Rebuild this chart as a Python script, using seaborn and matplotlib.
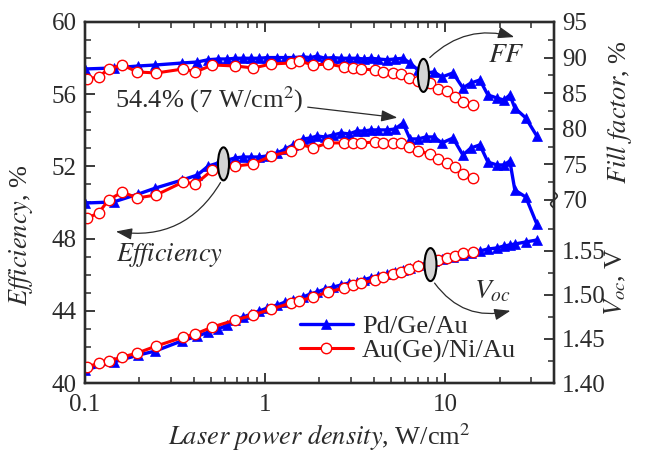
import numpy as np
import pandas as pd
import matplotlib
matplotlib.use("Agg")
import matplotlib.pyplot as plt
import seaborn as sns
from matplotlib.patches import Ellipse
from matplotlib.lines import Line2D
from matplotlib.ticker import FixedLocator, NullFormatter, LogLocator

# ---- data ----
# Pd/Ge/Au contacts (blue triangles)
pd_power = [0.1, 0.144, 0.198, 0.246, 0.347, 0.42, 0.483, 0.549, 0.616, 0.682,
            0.755, 0.836, 0.926, 1.026, 1.166, 1.291, 1.429, 1.624, 1.776, 1.942,
            2.15, 2.381, 2.637, 2.92, 3.233, 3.536, 3.867, 4.227, 4.742, 5.251,
            5.815, 6.358, 7.041, 7.798, 8.636, 9.563, 11.01, 12.5, 13.84, 15.53,
            17.2, 19.29, 21.09, 22.77, 24.27, 27.92, 32.13]
pd_eff = [49.97, 50.03, 50.47, 50.80, 51.25, 51.52, 52.02, 52.19, 52.35, 52.47,
          52.52, 52.52, 52.52, 52.58, 52.74, 52.96, 53.19, 53.52, 53.57, 53.68,
          53.63, 53.74, 53.85, 53.80, 53.96, 53.96, 54.02, 54.02, 54.02, 54.07,
          54.40, 53.52, 53.52, 53.63, 53.63, 53.30, 53.57, 52.63, 53.02, 53.19,
          52.24, 52.08, 52.08, 52.30, 50.69, 50.30, 48.81]
pd_ff = [88.40, 88.54, 88.82, 88.96, 89.24, 89.38, 89.70, 89.80, 89.80, 89.90,
         89.90, 89.90, 89.90, 90.00, 90.00, 90.00, 90.00, 90.10, 90.00, 90.20,
         89.90, 90.00, 89.90, 89.90, 89.90, 89.80, 89.90, 89.80, 89.70, 89.80,
         89.90, 89.24, 88.26, 87.84, 87.98, 87.28, 87.84, 85.73, 86.43, 86.85,
         84.75, 84.33, 84.04, 84.75, 82.92, 81.52, 78.99]
pd_voc = [1.4147, 1.4238, 1.4317, 1.4363, 1.4480, 1.4530, 1.4578, 1.4612, 1.4658, 1.4714,
          1.4748, 1.4782, 1.4816, 1.4850, 1.4884, 1.4918, 1.4941, 1.4975, 1.5009, 1.5032,
          1.5066, 1.5088, 1.5111, 1.5134, 1.5150, 1.5172, 1.5195, 1.5215, 1.5240, 1.5262,
          1.5285, 1.5308, 1.5333, 1.5358, 1.5380, 1.5403, 1.5429, 1.5451, 1.5474, 1.5497,
          1.5519, 1.5531, 1.5553, 1.5565, 1.5576, 1.5599, 1.5621]

# Au(Ge)/Ni/Au contacts (red open circles)
au_power = [0.103, 0.119, 0.135, 0.161, 0.195, 0.249, 0.351, 0.41, 0.509, 0.682,
            0.858, 1.08, 1.393, 1.543, 1.845, 2.234, 2.741, 3.073, 3.403, 4.069,
            4.506, 5.119, 5.669, 6.278, 7.041, 8.207, 9.088, 10.19, 11.29, 12.5, 14.2]
au_eff = [49.14, 49.42, 50.14, 50.58, 50.25, 50.42, 51.14, 51.02, 51.80, 52.02,
          52.13, 52.58, 52.85, 53.24, 53.02, 53.30, 53.30, 53.30, 53.30, 53.35,
          53.30, 53.30, 53.30, 53.07, 52.85, 52.69, 52.41, 52.19, 51.97, 51.58, 51.36]
au_ff = [86.99, 87.28, 88.40, 88.96, 87.98, 87.84, 88.40, 87.98, 88.96, 88.82,
         88.54, 89.10, 89.24, 89.52, 88.96, 89.10, 88.68, 88.54, 88.40, 88.26,
         87.98, 87.84, 87.70, 87.13, 86.71, 86.43, 85.59, 85.31, 84.47, 83.76, 83.34]
au_voc = [1.4180, 1.4227, 1.4250, 1.4295, 1.4340, 1.4420, 1.4520, 1.4556, 1.4635, 1.4714,
          1.4771, 1.4839, 1.4907, 1.4930, 1.4975, 1.5032, 1.5077, 1.5111, 1.5134, 1.5168,
          1.5202, 1.5236, 1.5259, 1.5293, 1.5327, 1.5360, 1.5395, 1.5417, 1.5440, 1.5474, 1.5485]

eff_ticks = [40, 44, 48, 52, 56, 60]
ff_ticks = [70, 75, 80, 85, 90, 95]
voc_ticks = [1.40, 1.45, 1.50, 1.55]

BLUE = "#0000ff"
RED = "#ff0000"
INK = "#2b2b2b"

pd_df = pd.DataFrame({"power": pd_power, "eff": pd_eff, "ff": pd_ff, "voc": pd_voc})
au_df = pd.DataFrame({"power": au_power, "eff": au_eff, "ff": au_ff, "voc": au_voc})

sns.set_theme(style="ticks")
plt.rcParams["font.family"] = ["Liberation Serif", "DejaVu Serif"]
plt.rcParams["mathtext.fontset"] = "stix"
plt.rcParams["text.color"] = INK
plt.rcParams["axes.labelcolor"] = INK
plt.rcParams["xtick.color"] = INK
plt.rcParams["ytick.color"] = INK
plt.rcParams["axes.edgecolor"] = INK

fig = plt.figure(figsize=(6.54, 4.53), dpi=100)
ax = fig.add_axes([0.130, 0.1545, 0.717, 0.797])
ax_ff = ax.twinx()
ax_voc = ax.twinx()

blue_kw = dict(color=BLUE, linewidth=2.4, marker="^", markersize=7,
               markerfacecolor=BLUE, markeredgecolor=BLUE, markeredgewidth=0.5)
red_kw = dict(color=RED, linewidth=2.2, marker="o", markersize=7.5,
              markerfacecolor="white", markeredgecolor=RED, markeredgewidth=1.0)

for target, col in [(ax, "eff"), (ax_ff, "ff"), (ax_voc, "voc")]:
    sns.lineplot(data=pd_df, x="power", y=col, ax=target, estimator=None,
                 sort=False, legend=False, **blue_kw)
    sns.lineplot(data=au_df, x="power", y=col, ax=target, estimator=None,
                 sort=False, legend=False, **red_kw)

# scales: all three share the same pixel frame
ax.set_xscale("log")
ax.set_xlim(0.1, 40)
ax.set_ylim(40, 60)
ax_ff.set_ylim(44.30, 95)
ax_voc.set_ylim(1.40, 1.8093)

ax.xaxis.set_major_locator(FixedLocator([0.1, 1, 10]))
ax.set_xticklabels(["0.1", "1", "10"])
ax.xaxis.set_minor_locator(LogLocator(base=10, subs=np.arange(2, 10)))
ax.xaxis.set_minor_formatter(NullFormatter())

ax.set_yticks(eff_ticks)
ax.set_yticks(np.arange(40, 61, 1), minor=True)

ax_ff.set_yticks(ff_ticks)
ax_ff.set_yticks(np.arange(72.5, 95, 5), minor=True)
ax_voc.set_yticks(voc_ticks)
ax_voc.set_yticklabels([f"{v:.2f}" for v in voc_ticks])
ax_voc.set_yticks([1.425, 1.475, 1.525, 1.575], minor=True)

for a in (ax, ax_ff, ax_voc):
    for s in a.spines.values():
        s.set_linewidth(1.6)
        s.set_color(INK)

ax.tick_params(axis="x", which="both", direction="in", top=True, bottom=True,
               labelsize=18, pad=8)
ax.tick_params(axis="y", which="both", direction="in", left=True, right=False,
               labelsize=18, pad=6)
for a in (ax_ff, ax_voc):
    a.tick_params(axis="y", which="both", direction="in", right=True, left=False,
                  labelsize=18, pad=6)
for a in (ax, ax_ff, ax_voc):
    a.tick_params(which="major", length=7, width=1.3)
    a.tick_params(which="minor", length=4.5, width=1.1)

# axis labels
ax.set_xlabel(r"$\mathit{Laser\ power\ density}$, W/cm$^2$", fontsize=19)
ax.xaxis.set_label_coords(0.5, -0.105)
ax.set_ylabel(r"$\mathit{Efficiency}$, %", fontsize=19)
ax.yaxis.set_label_coords(-0.107, 0.41)
ax_ff.set_ylabel(r"$\mathit{Fill\ factor}$, %", fontsize=19)
ax_ff.yaxis.set_label_coords(1.108, 0.75)
ax_voc.set_ylabel(r"$V_{oc}$, V", fontsize=19)
ax_voc.yaxis.set_label_coords(1.104, 0.28)

# axis break on the right spine
t = np.linspace(-1, 1, 30)
ax_voc.add_line(Line2D(1 + 0.007 * np.sin(np.pi * t), 0.507 + 0.022 * t,
                       transform=ax.transAxes, color=INK, lw=1.2, clip_on=False, zorder=10))

# group markers and call-outs
ell_kw = dict(facecolor="#d4d4d4", edgecolor="black", lw=1.5,
              transform=ax.transAxes, zorder=20)
ax_voc.add_patch(Ellipse((0.7217, 0.852), 0.0235, 0.0914, **ell_kw))
ax_voc.add_patch(Ellipse((0.2953, 0.607), 0.0235, 0.0914, **ell_kw))
ax_voc.add_patch(Ellipse((0.7367, 0.328), 0.0256, 0.0914, **ell_kw))

arrow_kw = dict(arrowstyle="-|>,head_length=0.7,head_width=0.25",
                color=INK, lw=0.9, mutation_scale=14)
ax_voc.annotate("", xy=(0.921, 0.956), xytext=(0.731, 0.896), xycoords=ax.transAxes,
                arrowprops=dict(connectionstyle="arc3,rad=-0.3", **arrow_kw))
ax_voc.annotate("", xy=(0.060, 0.421), xytext=(0.292, 0.562), xycoords=ax.transAxes,
                arrowprops=dict(connectionstyle="arc3,rad=-0.35", **arrow_kw))
ax_voc.annotate("", xy=(0.913, 0.202), xytext=(0.742, 0.283), xycoords=ax.transAxes,
                arrowprops=dict(connectionstyle="arc3,rad=0.35", **arrow_kw))
ax_voc.annotate("", xy=(0.672, 0.734), xytext=(0.469, 0.765), xycoords=ax.transAxes,
                arrowprops=dict(connectionstyle="arc3,rad=0", **arrow_kw))

ax_voc.text(0.898, 0.906, r"$\mathit{FF}$", transform=ax.transAxes, fontsize=20,
            ha="center", va="center")
ax_voc.text(0.181, 0.355, r"$\mathit{Efficiency}$", transform=ax.transAxes, fontsize=19,
            ha="center", va="center")
ax_voc.text(0.868, 0.252, r"$V_{oc}$", transform=ax.transAxes, fontsize=20,
            ha="center", va="center")
ax_voc.text(0.465, 0.784, r"54.4% (7 W/cm$^2$)", transform=ax.transAxes, fontsize=19,
            ha="right", va="center")

handles = [Line2D([], [], **blue_kw), Line2D([], [], **red_kw)]
ax_voc.legend(handles, ["Pd/Ge/Au", "Au(Ge)/Ni/Au"], loc="upper left",
              bbox_to_anchor=(0.458, 0.19), frameon=False, fontsize=19,
              handlelength=2.0, handletextpad=0.35, labelspacing=0.05,
              borderpad=0, borderaxespad=0)

fig.savefig("out.png", dpi=100)
